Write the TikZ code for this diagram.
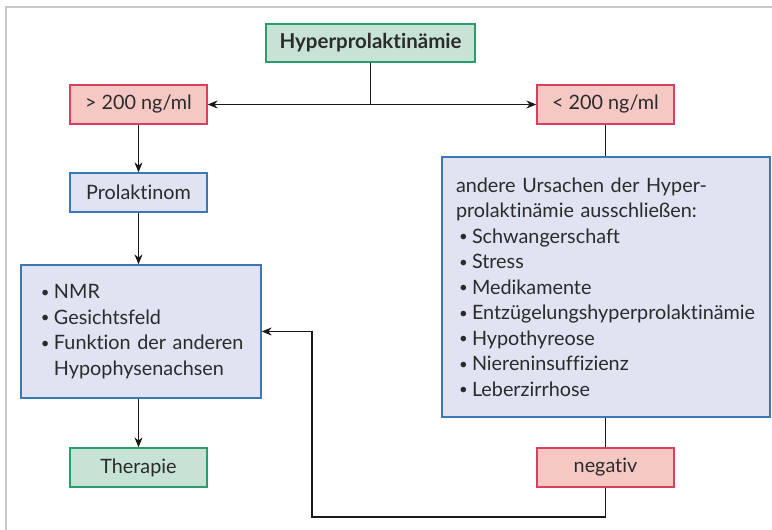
\documentclass[tikz,border=0pt]{standalone}
\usepackage{fontspec}
\setmainfont[Ligatures={NoCommon}]{Lato}
\usetikzlibrary{arrows.meta}
\definecolor{txt}{HTML}{2B2B2B}
\definecolor{gfill}{HTML}{C6E3D6}
\definecolor{gline}{HTML}{2A9D6A}
\definecolor{rfill}{HTML}{F5C8C4}
\definecolor{rline}{HTML}{D8405E}
\definecolor{bfill}{HTML}{E0E3F2}
\definecolor{bline}{HTML}{3B78B5}
\definecolor{frame}{HTML}{C8C8C8}
\newcommand{\bul}{\makebox[13pt][l]{\raisebox{1.3pt}{\fontsize{15}{15}\selectfont\textbullet}}}
\tikzset{
  x=1pt, y=1pt,
  base/.style={rectangle, draw, line width=1.3pt, text=txt, inner sep=0pt,
    font=\fontsize{19.8}{25.5}\selectfont},
  greenbox/.style={base, fill=gfill, draw=gline},
  redbox/.style={base, fill=rfill, draw=rline},
  bluebox/.style={base, fill=bfill, draw=bline},
  conn/.style={line width=1.2pt, draw=black!90},
  arr/.style={conn, -{Stealth[length=10pt, width=8pt]}},
}
\begin{document}
\begin{tikzpicture}
\useasboundingbox (0,0) rectangle (772,-530);
\draw[frame, line width=2pt] (6,-530) -- (6,-7) -- (772,-7);

\node[greenbox, minimum width=209, minimum height=38, font=\fontsize{20.5}{25.5}\selectfont\bfseries] (hyp) at (370.5,-43) {Hyperprolaktinämie};
\node[redbox, minimum width=137, minimum height=39] (gt) at (138.5,-104.5) {> 200 ng/ml};
\node[redbox, minimum width=137, minimum height=39] (lt) at (605.5,-104.5) {< 200 ng/ml};
\node[bluebox, minimum width=137, minimum height=39] (prol) at (138.5,-192.5) {Prolaktinom};
\node[bluebox, minimum width=240, minimum height=133, text width=214, inner xsep=13pt, align=left] (nmr) at (141,-331.5)
  {\hspace*{7pt}\bul NMR\\ \hspace*{7pt}\bul Gesichtsfeld\\ \hspace*{7pt}\bul Funktion der anderen\\ \hspace*{20pt}Hypophysenachsen};
\node[greenbox, minimum width=137, minimum height=39] (ther) at (138.5,-467.5) {Therapie};
\node[bluebox, minimum width=328, minimum height=260, text width=300, inner xsep=14pt, align=left] (urs) at (606,-287)
  {andere Ursachen der Hyper-\\ prolaktinämie ausschließen:\\
   \hspace*{3pt}\bul Schwangerschaft\\ \hspace*{3pt}\bul Stress\\ \hspace*{3pt}\bul Medikamente\\
   \hspace*{3pt}\bul Entzügelungshyperprolaktinämie\\ \hspace*{3pt}\bul Hypothyreose\\
   \hspace*{3pt}\bul Niereninsuffizienz\\ \hspace*{3pt}\bul Leberzirrhose};
\node[redbox, minimum width=137, minimum height=39] (neg) at (605.5,-467.5) {negativ};

\coordinate (c1) at (312,-517);

\draw[arr] (hyp.south) |- (gt.east);
\draw[arr] (hyp.south) |- (lt.west);
\draw[arr] (gt.south) -- (prol.north);
\draw[arr] (prol.south) -- (nmr.north -| prol.south);
\draw[arr] (nmr.south -| ther.north) -- (ther.north);
\draw[conn] (lt.south) -- (urs.north -| lt.south);
\draw[conn] (urs.south -| neg.north) -- (neg.north);
\draw[arr] (neg.south) |- (c1) |- (nmr.east);
\end{tikzpicture}
\end{document}
